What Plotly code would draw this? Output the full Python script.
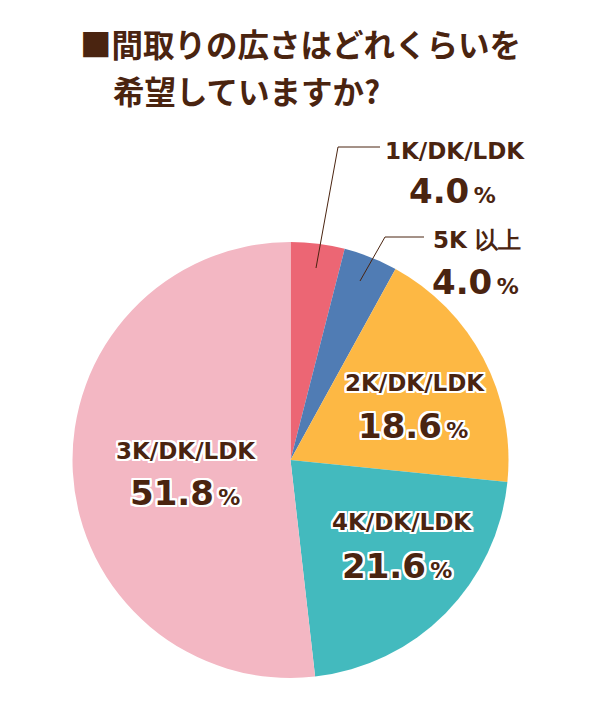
import plotly.graph_objects as go

W, H = 600, 707

categories = ["1K/DK/LDK", "5K 以上", "2K/DK/LDK", "4K/DK/LDK", "3K/DK/LDK"]
values = [4.0, 4.0, 18.6, 21.6, 51.8]
colors = ["#EC6674", "#507CB4", "#FDB844", "#43BABE", "#F3B7C3"]
title_lines = ["■間取りの広さはどれくらいを", "希望していますか?"]

BROWN = "#4A2410"

def px(x):
    return x / W

def py(y):
    return 1 - y / H

# pie geometry (pixels)
cx, cy, r = 290.5, 460, 218

fig = go.Figure()
fig.add_trace(go.Pie(
    labels=categories,
    values=values,
    sort=False,
    direction="clockwise",
    rotation=0,
    textinfo="none",
    hoverinfo="label+percent",
    marker=dict(colors=colors, line=dict(width=0)),
    domain=dict(x=[px(cx - r), px(cx + r)], y=[py(cy + r), py(cy - r)]),
    showlegend=False,
))

outline = ",".join(f"{dx}px {dy}px 0 #ffffff" for dx, dy in
                   [(2, 0), (-2, 0), (0, 2), (0, -2), (2, 2), (-2, -2), (2, -2), (-2, 2),
                    (1, 2), (2, 1), (-1, 2), (-2, 1), (1, -2), (2, -1), (-1, -2), (-2, -1)])

annotations = []
# title
annotations.append(dict(x=px(78), y=py(43), xref="paper", yref="paper", xanchor="left", yanchor="middle",
                        text=title_lines[0], showarrow=False,
                        font=dict(family="Noto Sans CJK JP", size=31.5, color=BROWN, weight="bold")))
annotations.append(dict(x=px(111), y=py(90), xref="paper", yref="paper", xanchor="left", yanchor="middle",
                        text=title_lines[1], showarrow=False,
                        font=dict(family="Noto Sans CJK JP", size=31.5, color=BROWN, weight="bold")))

# label positions (pixels): (name center, value center)
label_pos = [
    ((455, 151), (452, 191)),
    ((477, 240), (475, 282)),
    ((415, 383), (413, 426)),
    ((402, 522), (397, 566)),
    ((186, 451), (185, 493)),
]

for cat, val, (npos, vpos) in zip(categories, values, label_pos):
    annotations.append(dict(x=px(npos[0]), y=py(npos[1]), xref="paper", yref="paper",
                            xanchor="center", yanchor="middle", text=cat, showarrow=False,
                            font=dict(family="DejaVu Sans", size=23, color=BROWN, weight="bold",
                                      shadow=outline)))
    annotations.append(dict(x=px(vpos[0]), y=py(vpos[1]), xref="paper", yref="paper",
                            xanchor="center", yanchor="middle",
                            text=f"{val:.1f}<span style='font-size:22px'>\u2009%</span>", showarrow=False,
                            font=dict(family="DejaVu Sans", size=34, color=BROWN, weight="bold",
                                      shadow=outline)))

# leader lines for small slices (pixels)
leaders = [
    [(316, 268), (338, 147), (380, 147)],
    [(360, 281), (385, 237), (424, 237)],
]
shapes = []
for pts in leaders:
    for (x0, y0), (x1, y1) in zip(pts[:-1], pts[1:]):
        shapes.append(dict(type="line", xref="paper", yref="paper",
                           x0=px(x0), y0=py(y0), x1=px(x1), y1=py(y1),
                           line=dict(color=BROWN, width=1)))

fig.update_layout(
    width=W, height=H,
    margin=dict(l=0, r=0, t=0, b=0),
    paper_bgcolor="white", plot_bgcolor="white",
    annotations=annotations,
    shapes=shapes,
)

fig.write_html("out.html")
